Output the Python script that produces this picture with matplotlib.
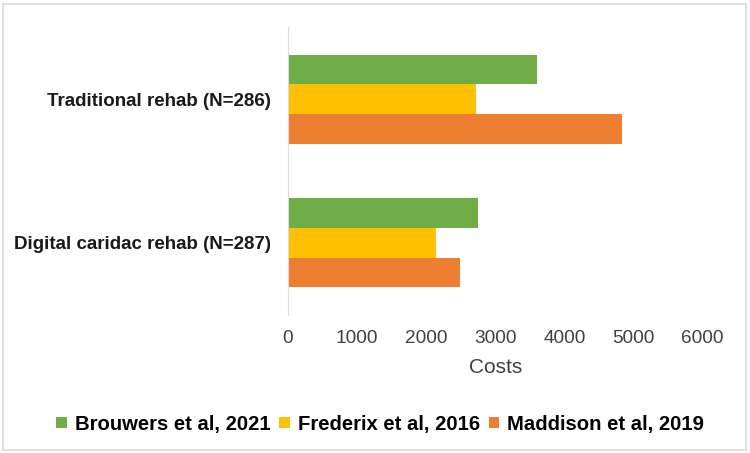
import numpy as np
import matplotlib.pyplot as plt
from matplotlib.patches import Rectangle

plt.rcParams['font.family'] = ['Liberation Sans', 'DejaVu Sans']

categorias = ["Digital caridac rehab (N=287)", "Traditional rehab (N=286)"]
estudios = ["Brouwers et al, 2021", "Frederix et al, 2016", "Maddison et al, 2019"]
brouwers = [2750, 3600]
frederix = [2140, 2720]
maddison = [2490, 4830]
xticks = [0, 1000, 2000, 3000, 4000, 5000, 6000]

colores = ["#70AD47", "#FFC000", "#ED7D31"]

fig = plt.figure(figsize=(7.5, 4.53), dpi=100)
ax = fig.add_axes([0.384, 0.305, 0.553, 0.635])

y = np.arange(len(categorias))
h = 0.206
for serie, off, col, lab in zip([brouwers, frederix, maddison], [h, 0, -h], colores, estudios):
    ax.barh(y + off, serie, height=h, color=col, label=lab)

ax.set_xlim(0, 6000)
ax.set_ylim(-0.5, 1.5)
ax.set_xticks(xticks)
ax.set_xticklabels([str(t) for t in xticks], fontsize=13.7, color="#404040")
ax.set_yticks(y)
ax.set_yticklabels(categorias, fontsize=13.5, fontweight="bold", color="#1a1a1a")
ax.tick_params(length=0, axis="x", pad=11)
ax.tick_params(length=0, axis="y", pad=12)
ax.set_xlabel("Costs", fontsize=15, color="#404040", labelpad=8)

for s in ["top", "right", "bottom"]:
    ax.spines[s].set_visible(False)
ax.spines["left"].set_color("#D9D9D9")

fig.legend(loc="center", bbox_to_anchor=(0.507, 0.064), ncol=3, frameon=False,
           prop={"size": 14.6, "weight": "bold"}, handlelength=0.5, handleheight=0.5,
           handletextpad=0.4, columnspacing=0.45)

# borde del área del gráfico
fig.patches.append(Rectangle((0.004, 0.006), 0.99, 0.985, transform=fig.transFigure,
                             fill=False, edgecolor="#D9D9D9", linewidth=1.2))

fig.savefig("out.png", dpi=100)
